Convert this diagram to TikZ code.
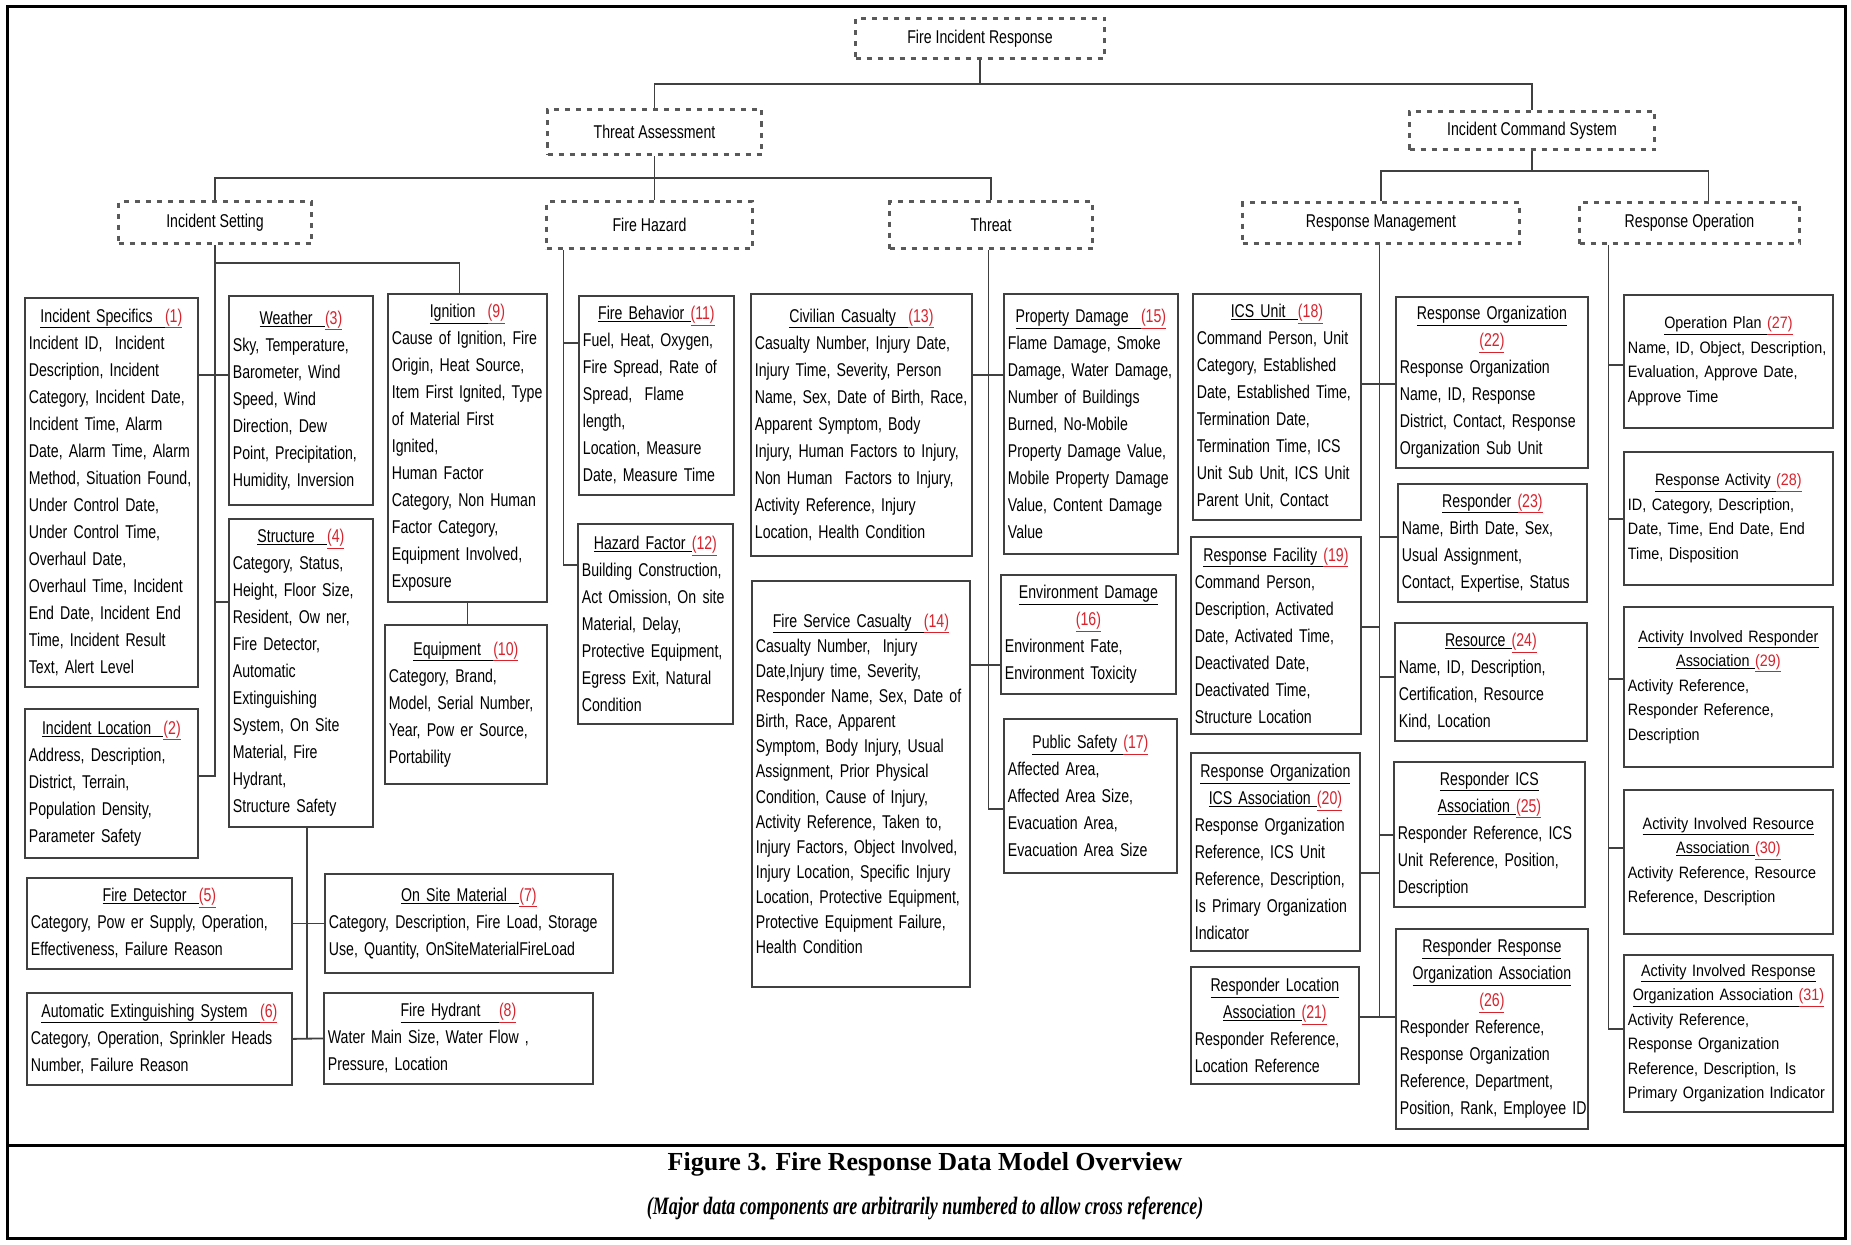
\documentclass[tikz,border=0pt]{standalone}
\usepackage{fontspec}
\setmainfont{Liberation Sans}
\newfontfamily\bx[FakeStretch=0.764]{Liberation Sans}
\newfontfamily\bxr[FakeStretch=0.87]{Liberation Sans}
\newfontfamily\capfont{Liberation Serif}
\newfontfamily\capfontn[FakeStretch=0.72]{Liberation Serif}
\definecolor{numred}{RGB}{215,35,45}
\newcommand\ttl[2]{\makebox[\hsize]{\underline{#1}\textcolor{numred}{\underline{(#2)}}}}
\newcommand\tlc[1]{\makebox[\hsize]{\underline{#1}}}
\newcommand\tnc[1]{\makebox[\hsize]{\textcolor{numred}{\underline{(#1)}}}}
\newcommand\Ln[1]{\\\mbox{#1}}
\tikzset{
  ebox/.style={draw=black!75, line width=1.8pt, fill=white, anchor=north west,
    inner xsep=4pt, inner ysep=1pt, align=left, font={\bx\fontsize{18.5}{27}\selectfont}},
  rbox/.style={ebox, font={\bxr\fontsize{16.5}{24.5}\selectfont}},
  dbox/.style={draw=black!65, line width=3pt, dash pattern=on 5pt off 6pt, anchor=north west,
    inner sep=0pt, font={\bx\fontsize{18.5}{22}\selectfont}},
  conn/.style={draw=black!75, line width=1.8pt},
}
\begin{document}
\begin{tikzpicture}[x=1pt,y=-1pt]
\useasboundingbox (0,0) rectangle (1851,1244);
\draw[line width=3pt] (7,7) rectangle (1845,1238);
\draw[line width=3pt] (7,1145) -- (1845,1145);

% dashed group boxes
\node[dbox, minimum width=249pt, minimum height=40pt] (fir) at (854,17) {Fire Incident Response};
\node[dbox, minimum width=214pt, minimum height=45pt] (ta) at (546,108) {Threat Assessment};
\node[dbox, minimum width=245pt, minimum height=38pt] (icsys) at (1408,110) {Incident Command System};
\node[dbox, minimum width=193pt, minimum height=42pt] (isg) at (117,200) {Incident Setting};
\node[dbox, minimum width=206pt, minimum height=47pt] (fhz) at (545,200) {Fire Hazard};
\node[dbox, minimum width=203pt, minimum height=47pt] (thr) at (888,200) {Threat};
\node[dbox, minimum width=277pt, minimum height=41pt] (rm) at (1241,201) {Response Management};
\node[dbox, minimum width=220pt, minimum height=41pt] (ro) at (1578,201) {Response Operation};

% Incident setting column
\node[ebox, text width=165pt, minimum height=389pt] (is1) at (24,297) {\ttl{Incident Specifics\ \ }{1}\Ln{Incident ID,~ Incident}\Ln{Description, Incident}\Ln{Category, Incident Date,}\Ln{Incident Time, Alarm}\Ln{Date, Alarm Time, Alarm}\Ln{Method, Situation Found,}\Ln{Under Control Date,}\Ln{Under Control Time,}\Ln{Overhaul Date,}\Ln{Overhaul Time, Incident}\Ln{End Date, Incident End}\Ln{Time, Incident Result}\Ln{Text, Alert Level}};
\node[ebox, text width=136pt, minimum height=209pt] (wea) at (228,295) {\ttl{Weather\ \ }{3}\Ln{Sky, Temperature,}\Ln{Barometer, Wind}\Ln{Speed, Wind}\Ln{Direction, Dew}\Ln{Point, Precipitation,}\Ln{Humidity, Inversion}};
\node[ebox, text width=136pt, minimum height=308pt] (str) at (228,518) {\ttl{Structure\ \ }{4}\Ln{Category, Status,}\Ln{Height, Floor Size,}\Ln{Resident, Ow ner,}\Ln{Fire Detector,}\Ln{Automatic}\Ln{Extinguishing}\Ln{System, On Site}\Ln{Material, Fire}\Ln{Hydrant,}\Ln{Structure Safety}};
\node[ebox, text width=151pt, minimum height=308pt] (ign) at (387,293) {\ttl{Ignition\ \ }{9}\Ln{Cause of Ignition, Fire}\Ln{Origin, Heat Source,}\Ln{Item First Ignited, Type}\Ln{of Material First}\Ln{Ignited,}\Ln{Human Factor}\Ln{Category, Non Human}\Ln{Factor Category,}\Ln{Equipment Involved,}\Ln{Exposure}};
\node[ebox, text width=154pt, minimum height=159pt] (eqp) at (384,624) {\ttl{Equipment\ \ }{10}\Ln{Category, Brand,}\Ln{Model, Serial Number,}\Ln{Year, Pow er Source,}\Ln{Portability}};
\node[ebox, text width=165pt, minimum height=149pt] (il) at (24,708) {\ttl{Incident Location\ \ }{2}\Ln{Address, Description,}\Ln{District, Terrain,}\Ln{Population Density,}\Ln{Parameter Safety}};
\node[ebox, text width=257pt, minimum height=91pt] (fd) at (26,877) {\ttl{Fire Detector\ \ }{5}\Ln{Category, Pow er Supply, Operation,}\Ln{Effectiveness, Failure Reason}};
\node[ebox, text width=257pt, minimum height=92pt] (aes) at (26,992) {\ttl{Automatic Extinguishing System\ \ }{6}\Ln{Category, Operation, Sprinkler Heads}\Ln{Number, Failure Reason}};
\node[ebox, text width=280pt, minimum height=99pt] (osm) at (324,873) {\ttl{On Site Material\ \ }{7}\Ln{Category, Description, Fire Load, Storage}\Ln{Use, Quantity, OnSiteMaterialFireLoad}};
\node[ebox, text width=261pt, minimum height=91pt] (fhy) at (323,992) {\ttl{Fire Hydrant\ \ \ }{8}\Ln{Water Main Size, Water Flow ,}\Ln{Pressure, Location}};

% Fire hazard column
\node[ebox, text width=147pt, minimum height=199pt] (fb) at (578,295) {\ttl{Fire Behavior }{11}\Ln{Fuel, Heat, Oxygen,}\Ln{Fire Spread, Rate of}\Ln{Spread,~ Flame}\Ln{length,}\Ln{Location, Measure}\Ln{Date, Measure Time}};
\node[ebox, text width=147pt, minimum height=200pt] (hf) at (577,523) {\ttl{Hazard Factor }{12}\Ln{Building Construction,}\Ln{Act Omission, On site}\Ln{Material, Delay,}\Ln{Protective Equipment,}\Ln{Egress Exit, Natural}\Ln{Condition}};

% Threat column
\node[ebox, text width=213pt, minimum height=262pt] (cc) at (750,293) {\ttl{Civilian Casualty\ \ }{13}\Ln{Casualty Number, Injury Date,}\Ln{Injury Time, Severity, Person}\Ln{Name, Sex, Date of Birth, Race,}\Ln{Apparent Symptom, Body}\Ln{Injury, Human Factors to Injury,}\Ln{Non Human~ Factors to Injury,}\Ln{Activity Reference, Injury}\Ln{Location, Health Condition}};
\node[ebox, text width=210pt, minimum height=406pt, font={\bx\fontsize{18.5}{25.1}\selectfont}] (fsc) at (751,580) {\ttl{Fire Service Casualty\ \ }{14}\Ln{Casualty Number,~ Injury}\Ln{Date,Injury time, Severity,}\Ln{Responder Name, Sex, Date of}\Ln{Birth, Race, Apparent}\Ln{Symptom, Body Injury, Usual}\Ln{Assignment, Prior Physical}\Ln{Condition, Cause of Injury,}\Ln{Activity Reference, Taken to,}\Ln{Injury Factors, Object Involved,}\Ln{Injury Location, Specific Injury}\Ln{Location, Protective Equipment,}\Ln{Protective Equipment Failure,}\Ln{Health Condition}};
\node[ebox, text width=166pt, minimum height=260pt] (pd) at (1003,293) {\ttl{Property Damage\ \ }{15}\Ln{Flame Damage, Smoke}\Ln{Damage, Water Damage,}\Ln{Number of Buildings}\Ln{Burned, No-Mobile}\Ln{Property Damage Value,}\Ln{Mobile Property Damage}\Ln{Value, Content Damage}\Ln{Value}};
\node[ebox, text width=167pt, minimum height=119pt] (ed) at (1000,574) {\tlc{Environment Damage}\\\tnc{16}\Ln{Environment Fate,}\Ln{Environment Toxicity}};
\node[ebox, text width=165pt, minimum height=154pt] (ps) at (1003,718) {\ttl{Public Safety }{17}\Ln{Affected Area,}\Ln{Affected Area Size,}\Ln{Evacuation Area,}\Ln{Evacuation Area Size}};

% Response management columns
\node[ebox, text width=160pt, minimum height=226pt] (ics) at (1192,293) {\ttl{ICS Unit\ \ }{18}\Ln{Command Person, Unit}\Ln{Category, Established}\Ln{Date, Established Time,}\Ln{Termination Date,}\Ln{Termination Time, ICS}\Ln{Unit Sub Unit, ICS Unit}\Ln{Parent Unit, Contact}};
\node[ebox, text width=162pt, minimum height=197pt] (rf) at (1190,536) {\ttl{Response Facility }{19}\Ln{Command Person,}\Ln{Description, Activated}\Ln{Date, Activated Time,}\Ln{Deactivated Date,}\Ln{Deactivated Time,}\Ln{Structure Location}};
\node[ebox, text width=161pt, minimum height=198pt] (roi) at (1190,752) {\tlc{Response Organization}\\\ttl{ICS Association }{20}\Ln{Response Organization}\Ln{Reference, ICS Unit}\Ln{Reference, Description,}\Ln{Is Primary Organization}\Ln{Indicator}};
\node[ebox, text width=160pt, minimum height=117pt] (rla) at (1190,966) {\tlc{Responder Location}\\\ttl{Association }{21}\Ln{Responder Reference,}\Ln{Location Reference}};
\node[ebox, text width=184pt, minimum height=171pt] (rorg) at (1395,296) {\tlc{Response Organization}\\\tnc{22}\Ln{Response Organization}\Ln{Name, ID, Response}\Ln{District, Contact, Response}\Ln{Organization Sub Unit}};
\node[ebox, text width=181pt, minimum height=118pt] (rsp) at (1397,483) {\ttl{Responder }{23}\Ln{Name, Birth Date, Sex,}\Ln{Usual Assignment,}\Ln{Contact, Expertise, Status}};
\node[ebox, text width=184pt, minimum height=118pt] (res) at (1394,622) {\ttl{Resource }{24}\Ln{Name, ID, Description,}\Ln{Certification, Resource}\Ln{Kind, Location}};
\node[ebox, text width=183pt, minimum height=145pt] (ric) at (1393,761) {\tlc{Responder ICS}\\\ttl{Association }{25}\Ln{Responder Reference, ICS}\Ln{Unit Reference, Position,}\Ln{Description}};
\node[ebox, text width=184pt, minimum height=200pt] (rro) at (1395,928) {\tlc{Responder Response}\\\tlc{Organization Association}\\\tnc{26}\Ln{Responder Reference,}\Ln{Response Organization}\Ln{Reference, Department,}\Ln{Position, Rank, Employee ID}};

% Response operation column
\node[rbox, text width=201pt, minimum height=133pt] (op) at (1623,294) {\ttl{Operation Plan }{27}\Ln{Name, ID, Object, Description,}\Ln{Evaluation, Approve Date,}\Ln{Approve Time}};
\node[rbox, text width=201pt, minimum height=133pt] (ra) at (1623,451) {\ttl{Response Activity }{28}\Ln{ID, Category, Description,}\Ln{Date, Time, End Date, End}\Ln{Time, Disposition}};
\node[rbox, text width=201pt, minimum height=160pt] (aira) at (1623,606) {\tlc{Activity Involved Responder}\\\ttl{Association }{29}\Ln{Activity Reference,}\Ln{Responder Reference,}\Ln{Description}};
\node[rbox, text width=201pt, minimum height=144pt] (aires) at (1623,789) {\tlc{Activity Involved Resource}\\\ttl{Association }{30}\Ln{Activity Reference, Resource}\Ln{Reference, Description}};
\node[rbox, text width=201pt, minimum height=157pt] (airo) at (1623,954) {\tlc{Activity Involved Response}\\\ttl{Organization Association }{31}\Ln{Activity Reference,}\Ln{Response Organization}\Ln{Reference, Description, Is}\Ln{Primary Organization Indicator}};

% top connectors
\draw[conn] (fir.south) -- (fir.south |- 0,84);
\draw[conn] (ta.north) -- (ta.north |- 0,84) -- (icsys.north |- 0,84) -- (icsys.north);
\draw[conn] (ta.south) -- (ta.south |- fhz.north);
\draw[conn] (isg.north) -- (isg.north |- 0,178) -- (thr.north |- 0,178) -- (thr.north);
\coordinate (roN) at ([xshift=19pt]ro.north);
\draw[conn] (icsys.south) -- (icsys.south |- 0,171);
\draw[conn] (rm.north) -- (rm.north |- 0,171) -- (roN |- 0,171) -- (roN);

% incident setting connectors
\coordinate (isT) at (isg.south);
\coordinate (ignN) at ([xshift=-8pt]ign.north);
\draw[conn] (isT) -- (isT |- 0,776) -- (il.east |- 0,776);
\draw[conn] (isT |- 0,263) -- (ignN |- 0,263) -- (ignN);
\draw[conn] (is1.east |- 0,375) -- (wea.west |- 0,375);
\draw[conn] (isT |- 0,602) -- (str.west |- 0,602);
\draw[conn] (ign.south) -- (ign.south |- eqp.north);
\coordinate (strT) at ([xshift=6pt]str.south);
\draw[conn] (strT) -- (strT |- aes.east);
\draw[conn] (fd.east) -- (osm.west);
\draw[conn] (aes.east) -- (fhy.west);

% fire hazard connectors
\coordinate (fhT) at ([xshift=-86pt]fhz.south);
\draw[conn] (fhT) |- (hf.west |- 0,565);
\draw[conn] (fhT |- 0,343) -- (fb.west |- 0,343);

% threat connectors
\coordinate (thT) at ([xshift=-2.5pt]thr.south);
\draw[conn] (thT) |- (ps.west |- 0,809);
\draw[conn] (cc.east |- 0,375) -- (pd.west |- 0,375);
\draw[conn] (fsc.east |- 0,665) -- (ed.west |- 0,665);

% response management connectors
\coordinate (rmT) at ([xshift=-1.5pt]rm.south);
\draw[conn] (rmT) -- (rmT |- 0,1017);
\draw[conn] (ics.east |- 0,384) -- (rorg.west |- 0,384);
\draw[conn] (rmT |- 0,537) -- (rsp.west |- 0,537);
\draw[conn] (rf.east |- 0,627) -- (rmT |- 0,627);
\draw[conn] (rmT |- 0,677) -- (res.west |- 0,677);
\draw[conn] (rmT |- 0,835) -- (ric.west |- 0,835);
\draw[conn] (roi.east |- 0,873) -- (rmT |- 0,873);
\draw[conn] (rla.east |- 0,1017) -- (rro.west |- 0,1017);

% response operation connectors
\coordinate (roT) at ([xshift=-81pt]ro.south);
\draw[conn] (roT) |- (airo.west |- 0,1029);
\draw[conn] (roT |- 0,365) -- (op.west |- 0,365);
\draw[conn] (roT |- 0,519) -- (ra.west |- 0,519);
\draw[conn] (roT |- 0,679) -- (aira.west |- 0,679);
\draw[conn] (roT |- 0,848) -- (aires.west |- 0,848);

% caption
\node (cap1) at (925,1164) {\capfont\bfseries\fontsize{26}{30}\selectfont Figure 3. Fire Response Data Model Overview};
\node (cap2) at (925,1208) {\capfontn\bfseries\itshape\fontsize{25}{30}\selectfont (Major data components are arbitrarily numbered to allow cross reference)};
\end{tikzpicture}
\end{document}
